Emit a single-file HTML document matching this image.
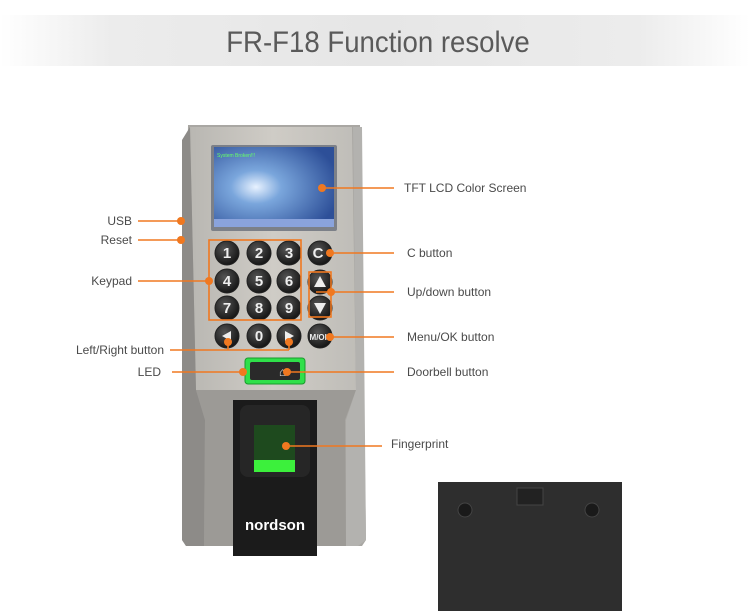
<!DOCTYPE html>
<html><head><meta charset="utf-8"><style>
html,body{margin:0;padding:0;background:#fff}
svg{display:block}
text{font-family:"Liberation Sans",sans-serif}
</style></head><body>
<svg width="750" height="611" viewBox="0 0 750 611" xmlns="http://www.w3.org/2000/svg">
<defs>
<linearGradient id="band" x1="0" x2="1" y1="0" y2="0">
<stop offset="0" stop-color="#fff"/><stop offset="0.15" stop-color="#ececec"/><stop offset="0.5" stop-color="#e6e6e6"/><stop offset="0.85" stop-color="#ececec"/><stop offset="1" stop-color="#fff"/>
</linearGradient>
<linearGradient id="face" x1="0" x2="1" y1="0" y2="0">
<stop offset="0" stop-color="#b9b7b2"/><stop offset="0.5" stop-color="#cfccc6"/><stop offset="1" stop-color="#bfbdb8"/>
</linearGradient>
<radialGradient id="scr" cx="0.35" cy="0.5" r="0.7">
<stop offset="0" stop-color="#e8f2ff"/><stop offset="0.3" stop-color="#7aa6dc"/><stop offset="1" stop-color="#2d4f98"/>
</radialGradient>
<radialGradient id="key" cx="0.4" cy="0.35" r="0.7">
<stop offset="0" stop-color="#555"/><stop offset="1" stop-color="#111"/>
</radialGradient>
</defs>
<rect x="0" y="15" width="750" height="51" fill="url(#band)"/>
<text x="378" y="52" text-anchor="middle" font-size="30" fill="#5a5a5a" transform="translate(378 0) scale(0.92 1) translate(-378 0)">FR-F18 Function resolve</text>

<polygon points="188,125 360,125 366,540 362,546 186,546 182,540" fill="#a9a7a3"/>
<polygon points="190,127 352,127 356,390 196,390" fill="url(#face)"/>
<polygon points="196,390 356,390 345,420 346,546 204,546 205,420" fill="#9c9a96"/>
<polygon points="353,127 362,127 366,540 358,546 346,546 346,420 356,390" fill="#b3b2af"/>
<polygon points="182,140 190,127 196,390 205,420 204,546 186,546 182,540" fill="#8d8b88"/>

<rect x="211" y="145" width="126" height="86" rx="2" fill="#7c8088"/>
<rect x="214" y="147" width="120" height="80" fill="url(#scr)"/>
<rect x="214" y="219" width="120" height="8" fill="#8aa3dc"/>
<text x="217" y="157" font-size="5" fill="#6f6" font-family="Liberation Mono">System Broken!!!</text>

<g font-size="15" font-weight="bold" fill="#eee" text-anchor="middle">
<g fill="url(#key)" stroke="#222">
<circle cx="227" cy="253" r="12"/><circle cx="259" cy="253" r="12"/><circle cx="289" cy="253" r="12"/>
<circle cx="227" cy="281" r="12"/><circle cx="259" cy="281" r="12"/><circle cx="289" cy="281" r="12"/>
<circle cx="227" cy="308" r="12"/><circle cx="259" cy="308" r="12"/><circle cx="289" cy="308" r="12"/>
<circle cx="227" cy="336" r="12"/><circle cx="259" cy="336" r="12"/><circle cx="289" cy="336" r="12"/>
<circle cx="320" cy="253" r="12"/><circle cx="320" cy="282" r="12"/><circle cx="320" cy="308" r="12"/><circle cx="320" cy="336" r="12"/>
</g>
<text x="227" y="258">1</text><text x="259" y="258">2</text><text x="289" y="258">3</text>
<text x="227" y="286">4</text><text x="259" y="286">5</text><text x="289" y="286">6</text>
<text x="227" y="313">7</text><text x="259" y="313">8</text><text x="289" y="313">9</text>
<text x="259" y="341">0</text><text x="318" y="258">C</text>
<text x="320" y="340" font-size="8">M/OK</text>
</g>
<polygon points="222,336 231,331 231,341" fill="#eee"/>
<polygon points="294,336 285,331 285,341" fill="#eee"/>
<polygon points="320,276 314,287 326,287" fill="#eee"/>
<polygon points="320,314 314,303 326,303" fill="#eee"/>

<rect x="245" y="358" width="60" height="26" rx="3" fill="#2fe04a" stroke="#1a9a2c"/>
<rect x="250" y="362" width="50" height="18" rx="2" fill="#2a2a2a"/>
<text x="279" y="376" font-size="12" fill="#eee" font-weight="bold">&#x2302;</text>

<rect x="233" y="400" width="84" height="156" fill="#1b1b1b"/>
<rect x="240" y="405" width="70" height="72" rx="8" fill="#262626"/>
<rect x="254" y="425" width="41" height="47" fill="#1e4a1e"/>
<rect x="254" y="460" width="41" height="12" fill="#3cf03c"/>
<text x="275" y="530" font-size="15" fill="#fff" text-anchor="middle" font-weight="bold">nordson</text>

<rect x="438" y="482" width="184" height="129" fill="#2e2e2e"/>
<rect x="517" y="488" width="26" height="17" fill="#222" stroke="#444"/>
<circle cx="465" cy="510" r="7" fill="#1a1a1a" stroke="#444"/>
<circle cx="592" cy="510" r="7" fill="#1a1a1a" stroke="#444"/>

<g stroke="#f07820" stroke-width="1.6" fill="none">
<line x1="138" y1="221" x2="181" y2="221"/>
<line x1="138" y1="240" x2="181" y2="240"/>
<line x1="138" y1="281" x2="209" y2="281"/>
<rect x="209" y="240" width="92" height="80"/>
<rect x="309" y="272" width="22" height="45"/>
<line x1="170" y1="350" x2="289" y2="350"/>
<line x1="228" y1="340" x2="228" y2="350"/><line x1="289" y1="340" x2="289" y2="350"/>
<line x1="172" y1="372" x2="243" y2="372"/>
<line x1="322" y1="188" x2="394" y2="188"/>
<line x1="330" y1="253" x2="394" y2="253"/>
<line x1="316" y1="292" x2="394" y2="292"/>
<line x1="330" y1="337" x2="394" y2="337"/>
<line x1="287" y1="372" x2="394" y2="372"/>
<line x1="286" y1="446" x2="382" y2="446"/>
</g>
<g fill="#f07820">
<circle cx="181" cy="221" r="4"/><circle cx="181" cy="240" r="4"/><circle cx="209" cy="281" r="4"/>
<circle cx="228" cy="342" r="4"/><circle cx="289" cy="342" r="4"/><circle cx="243" cy="372" r="4"/>
<circle cx="322" cy="188" r="4"/><circle cx="330" cy="253" r="4"/><circle cx="331" cy="292" r="4"/>
<circle cx="330" cy="337" r="4"/><circle cx="287" cy="372" r="4"/><circle cx="286" cy="446" r="4"/>
</g>
<g font-size="12" fill="#4a4a4a">
<text x="132" y="225" text-anchor="end">USB</text>
<text x="132" y="244" text-anchor="end">Reset</text>
<text x="132" y="285" text-anchor="end">Keypad</text>
<text x="164" y="354" text-anchor="end">Left/Right button</text>
<text x="161" y="376" text-anchor="end">LED</text>
<text x="404" y="192">TFT LCD Color Screen</text>
<text x="407" y="257">C button</text>
<text x="407" y="296">Up/down button</text>
<text x="407" y="341">Menu/OK button</text>
<text x="407" y="376">Doorbell button</text>
<text x="391" y="448">Fingerprint</text>
</g>
</svg>
</body></html>
